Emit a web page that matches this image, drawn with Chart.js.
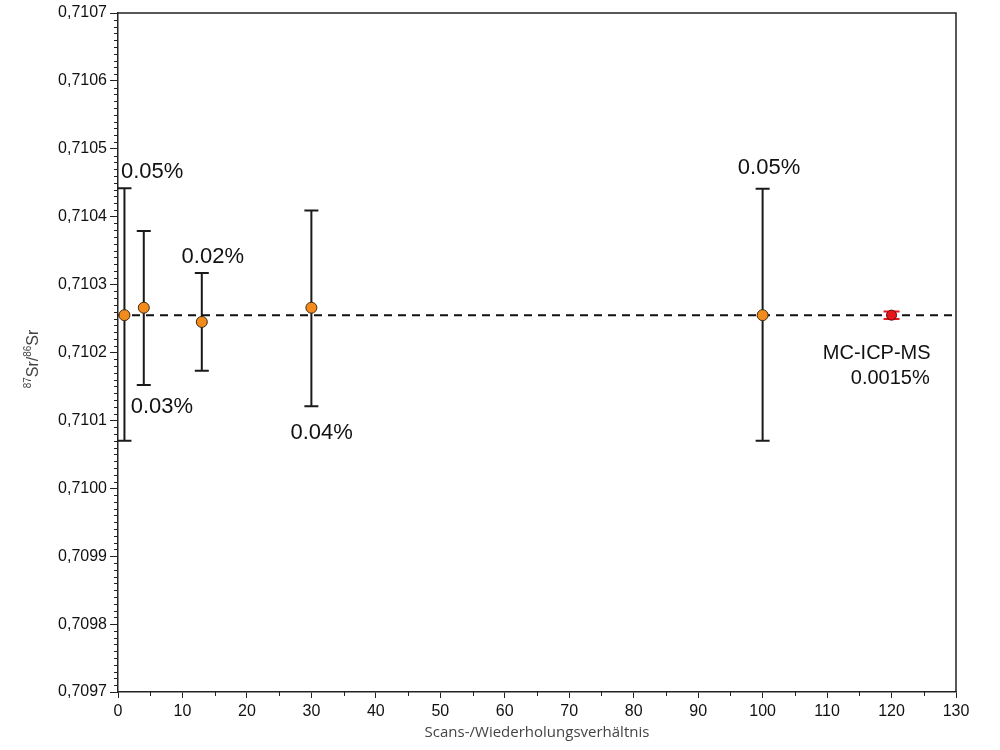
<!DOCTYPE html>
<html>
<head>
<meta charset="utf-8">
<script src="https://cdn.jsdelivr.net/npm/chart.js@4/dist/chart.umd.min.js"></script>
<style>
  html, body { margin: 0; padding: 0; background: #fff; }
  #wrap { width: 1000px; height: 750px; }
</style>
</head>
<body>
<div id="wrap"><canvas id="srChart" width="1000" height="750"></canvas></div>
<script>
// --- data ---
var ratios = [1, 4, 13, 30, 100];              // scans / repetitions ratio
var srValues = [0.710255, 0.710266, 0.710245, 0.710266, 0.710255];
var srHigh = [0.710442, 0.710379, 0.710317, 0.710409, 0.710441];
var srLow = [0.710070, 0.710152, 0.710173, 0.710121, 0.710070];

var mcX = [120];
var mcValue = [0.710255];
var mcHigh = [0.7102605];
var mcLow = [0.7102495];

var referenceValue = 0.710255;
var xTicks = [0, 10, 20, 30, 40, 50, 60, 70, 80, 90, 100, 110, 120, 130];
var yTicks = [0.7097, 0.7098, 0.7099, 0.7100, 0.7101, 0.7102, 0.7103, 0.7104, 0.7105, 0.7106, 0.7107];

// text labels, anchored in data units
var labelTexts = ['0.05%', '0.03%', '0.02%', '0.04%', '0.05%', 'MC-ICP-MS', '0.0015%'];
var labelX = [5.3, 6.8, 14.7, 31.6, 101.0, 117.7, 119.8];
var labelY = [0.710466, 0.710120, 0.710341, 0.710081, 0.710472, 0.710199, 0.710161];
var labelSize = [22, 22, 22, 22, 22, 20, 20];

var FONT = '"Liberation Sans", Arial, Helvetica, sans-serif';

function errorBars(ctx, xs, hi, lo, sx, sy, color, cap) {
  ctx.save();
  ctx.strokeStyle = color;
  ctx.lineWidth = 2;
  for (var i = 0; i < xs.length; i++) {
    var px = sx.getPixelForValue(xs[i]);
    var top = sy.getPixelForValue(hi[i]);
    var bot = sy.getPixelForValue(lo[i]);
    ctx.beginPath();
    ctx.moveTo(px, top); ctx.lineTo(px, bot);
    ctx.moveTo(px - cap, top); ctx.lineTo(px + cap, top);
    ctx.moveTo(px - cap, bot); ctx.lineTo(px + cap, bot);
    ctx.stroke();
  }
  ctx.restore();
}

var decorPlugin = {
  id: 'decor',
  beforeDatasetsDraw: function(chart) {
    var ctx = chart.ctx, a = chart.chartArea;
    var sx = chart.scales.x, sy = chart.scales.y;
    ctx.save();
    // top and right frame
    ctx.strokeStyle = '#222';
    ctx.lineWidth = 1.5;
    ctx.beginPath();
    ctx.moveTo(a.left, a.top); ctx.lineTo(a.right, a.top); ctx.lineTo(a.right, a.bottom);
    ctx.stroke();
    // minor ticks
    ctx.lineWidth = 1;
    ctx.beginPath();
    for (var i = 1; i < 100; i++) {
      if (i % 10 === 0) continue;
      var py = Math.round(sy.getPixelForValue(yTicks[0] + i * 0.00001)) + 0.5;
      ctx.moveTo(a.left - 4, py); ctx.lineTo(a.left, py);
    }
    for (var k = 5; k < 130; k += 10) {
      var px = Math.round(sx.getPixelForValue(k)) + 0.5;
      ctx.moveTo(px, a.bottom); ctx.lineTo(px, a.bottom + 4);
    }
    ctx.stroke();
    ctx.restore();
    errorBars(ctx, ratios, srHigh, srLow, sx, sy, '#1a1a1a', 7);
    errorBars(ctx, mcX, mcHigh, mcLow, sx, sy, '#e8151b', 8);
  },
  afterDatasetsDraw: function(chart) {
    var ctx = chart.ctx, a = chart.chartArea;
    var sx = chart.scales.x, sy = chart.scales.y;
    ctx.save();
    ctx.fillStyle = '#111';
    ctx.textAlign = 'center';
    ctx.textBaseline = 'middle';
    for (var i = 0; i < labelTexts.length; i++) {
      ctx.font = labelSize[i] + 'px ' + FONT;
      ctx.fillText(labelTexts[i], sx.getPixelForValue(labelX[i]), sy.getPixelForValue(labelY[i]));
    }
    ctx.restore();

    // y axis title with superscripts
    ctx.save();
    ctx.translate(33, 359);
    ctx.rotate(-Math.PI / 2);
    ctx.fillStyle = '#444';
    ctx.textBaseline = 'alphabetic';
    var parts = [['87', 10, -7], ['Sr/', 16, 0], ['86', 10, -7], ['Sr', 16, 0]];
    var w = 0;
    parts.forEach(function(p) { ctx.font = p[1] + 'px ' + FONT; w += ctx.measureText(p[0]).width; });
    var cx = -w / 2;
    parts.forEach(function(p) {
      ctx.font = p[1] + 'px ' + FONT;
      ctx.fillText(p[0], cx, 5 + p[2]);
      cx += ctx.measureText(p[0]).width;
    });
    ctx.restore();
  }
};

var ctx = document.getElementById('srChart').getContext('2d');
new Chart(ctx, {
  type: 'scatter',
  data: {
    datasets: [
      {
        type: 'line',
        data: [{ x: 0, y: referenceValue }, { x: 130, y: referenceValue }],
        borderColor: '#111',
        borderWidth: 2,
        borderDash: [8, 6],
        pointRadius: 0,
        fill: false,
        order: 3
      },
      {
        data: ratios.map(function(r, i) { return { x: r, y: srValues[i] }; }),
        backgroundColor: '#f28a1c',
        borderColor: '#3b2a12',
        borderWidth: 1,
        pointRadius: 5.5,
        order: 1
      },
      {
        data: mcX.map(function(r, i) { return { x: r, y: mcValue[i] }; }),
        backgroundColor: '#e8151b',
        borderColor: '#5a0a0a',
        borderWidth: 1,
        pointRadius: 5,
        order: 2
      }
    ]
  },
  options: {
    responsive: false,
    animation: false,
    layout: { padding: { left: 0, top: 13, right: 44, bottom: 0 } },
    plugins: { legend: { display: false }, tooltip: { enabled: false } },
    scales: {
      x: {
        type: 'linear',
        min: 0,
        max: 130,
        afterBuildTicks: function(scale) { scale.ticks = xTicks.map(function(v) { return { value: v }; }); },
        afterFit: function(scale) { scale.height = 58; },
        ticks: {
          color: '#111',
          font: { family: FONT, size: 16 },
          padding: 4,
          maxRotation: 0
        },
        grid: { drawOnChartArea: false, color: '#222', tickLength: 6 },
        border: { color: '#222', width: 1.5 },
        title: {
          display: true,
          text: 'Scans-/Wiederholungsverhältnis',
          color: '#444',
          font: { family: '"Open Sans", sans-serif', size: 15 },
          padding: { top: 0, bottom: 8 }
        }
      },
      y: {
        type: 'linear',
        min: 0.7097,
        max: 0.7107,
        afterBuildTicks: function(scale) { scale.ticks = yTicks.map(function(v) { return { value: v }; }); },
        afterFit: function(scale) { scale.width = 118; },
        ticks: {
          color: '#111',
          font: { family: FONT, size: 16 },
          padding: 3,
          callback: function(v) { return Number(v).toFixed(4).replace('.', ','); }
        },
        grid: { drawOnChartArea: false, color: '#222', tickLength: 8 },
        border: { color: '#222', width: 1.5 }
      }
    }
  },
  plugins: [decorPlugin]
});
</script>
</body>
</html>
